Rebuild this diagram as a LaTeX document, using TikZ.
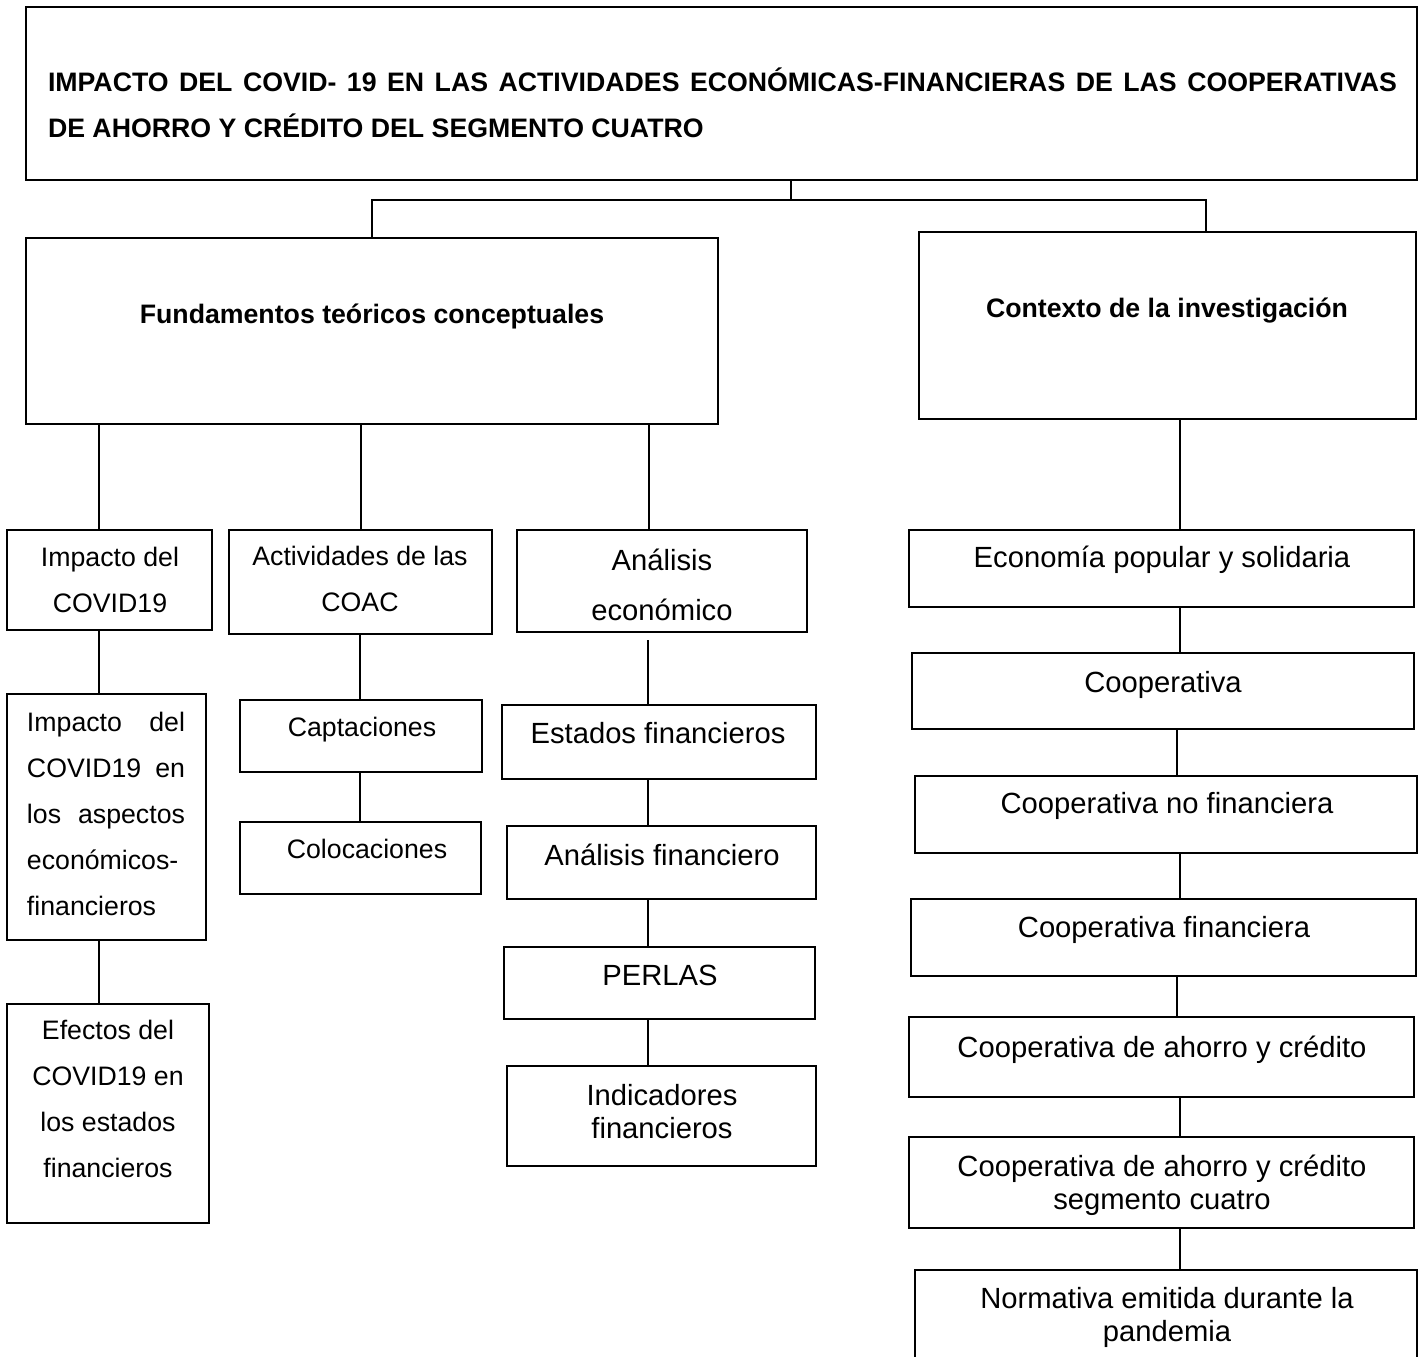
\documentclass[tikz,border=0pt]{standalone}
\usepackage{fontspec}
\setmainfont{Liberation Sans}
\usetikzlibrary{fit}
\newcommand\fsm{\fontsize{26.7}{46}\selectfont}
\newcommand\flg{\fontsize{29.2}{33.5}\selectfont}
\newcommand\flw{\fontsize{29.2}{50}\selectfont}
\newcommand\mlines[1]{\vtop{\halign{\hfil##\hfil\cr#1\crcr}}}
\tikzset{
  box/.style={draw, line width=2.5pt, inner sep=0pt, outer sep=0pt},
  lnk/.style={line width=2.5pt},
  txt/.style={inner sep=0pt, outer sep=0pt, anchor=base},
}
\begin{document}
\begin{tikzpicture}[x=1pt, y=-1pt]
\clip (0,0) rectangle (1419,1357);
\fill[white] (0,0) rectangle (1419,1357);
% boxes
\node[box, fit={(26,7) (1417,180)}] (title) {};
\node[box, fit={(26,238) (718,424)}] (fund) {};
\node[box, fit={(919,232) (1416,419)}] (ctx) {};
\node[box, fit={(7,530) (212,630)}] (imp) {};
\node[box, fit={(229,530) (492,634)}] (act) {};
\node[box, fit={(517,530) (807,632)}] (ane) {};
\node[box, fit={(7,694) (206,940)}] (impb) {};
\node[box, fit={(7,1004) (209,1223)}] (eff) {};
\node[box, fit={(240,700) (482,772)}] (cap) {};
\node[box, fit={(240,822) (481,894)}] (col) {};
\node[box, fit={(502,705) (816,779)}] (est) {};
\node[box, fit={(507,826) (816,899)}] (anf) {};
\node[box, fit={(504,947) (815,1019)}] (perl) {};
\node[box, fit={(507,1066) (816,1166)}] (ind) {};
\node[box, fit={(909,530) (1414,607)}] (eco) {};
\node[box, fit={(912,653) (1414,729)}] (coop) {};
\node[box, fit={(915,776) (1417,853)}] (nof) {};
\node[box, fit={(911,899) (1416,976)}] (fin) {};
\node[box, fit={(909,1017) (1414,1097)}] (ahc) {};
\node[box, fit={(909,1137) (1414,1228)}] (seg) {};
\node[box, fit={(915,1270) (1417,1380)}] (norm) {};
% texts
\node[txt, anchor=base west] (titlet) at (48,91) {\fsm\bfseries\parbox[t]{1349pt}{\sloppy\hyphenpenalty=10000 IMPACTO DEL COVID- 19 EN LAS ACTIVIDADES ECONÓMICAS-FINANCIERAS DE LAS COOPERATIVAS\linebreak DE AHORRO Y CRÉDITO DEL SEGMENTO CUATRO}};
\node[txt] (fundt) at (372,323) {\fsm\bfseries Fundamentos teóricos conceptuales};
\node[txt] (ctxt) at (1167,317) {\fsm\bfseries Contexto de la investigación};
\node[txt] (impt) at (110,566) {\fsm\mlines{Impacto del\cr COVID19}};
\node[txt] (actt) at (360,565) {\fsm\mlines{Actividades de las\cr COAC}};
\node[txt] (anet) at (662,570) {\flw\mlines{Análisis\cr económico}};
\node[txt, anchor=base west] (impbt) at (27,731) {\fsm\parbox[t]{158pt}{\hyphenpenalty=10000 Impacto del\linebreak COVID19 en\linebreak los aspectos\linebreak económicos-\\ financieros}};
\node[txt] (efft) at (108,1039) {\fsm\mlines{Efectos del\cr COVID19 en\cr los estados\cr financieros}};
\node[txt] (capt) at (362,736) {\fsm Captaciones};
\node[txt] (colt) at (367,858) {\fsm Colocaciones};
\node[txt] (estt) at (658,743) {\flg Estados financieros};
\node[txt] (anft) at (662,865) {\flg Análisis financiero};
\node[txt] (perlt) at (660,985) {\flg PERLAS};
\node[txt] (indt) at (662,1105) {\flg\mlines{Indicadores\cr financieros}};
\node[txt] (ecot) at (1162,567) {\flg Economía popular y solidaria};
\node[txt] (coopt) at (1163,692) {\flg Cooperativa};
\node[txt] (noft) at (1167,813) {\flg Cooperativa no financiera};
\node[txt] (fint) at (1164,937) {\flg Cooperativa financiera};
\node[txt] (ahct) at (1162,1057) {\flg Cooperativa de ahorro y crédito};
\node[txt] (segt) at (1162,1176) {\flg\mlines{Cooperativa de ahorro y crédito\cr segmento cuatro}};
\node[txt] (normt) at (1167,1308) {\flg\mlines{Normativa emitida durante la\cr pandemia}};
% connectors
\coordinate (j) at (791,200);
\coordinate (jr) at (1206,200);
\draw[lnk] (title.south -| j) -- (j);
\draw[lnk] (fund.north) |- (jr) -- (ctx.north -| jr);
\draw[lnk] (fund.south -| 99,0) -- (imp.north -| 99,0);
\draw[lnk] (fund.south -| 361,0) -- (act.north -| 361,0);
\draw[lnk] (fund.south -| 649,0) -- (ane.north -| 649,0);
\draw[lnk] (imp.south -| 99,0) -- (impb.north -| 99,0);
\draw[lnk] (impb.south -| 99,0) -- (eff.north -| 99,0);
\draw[lnk] (act.south -| 360,0) -- (cap.north -| 360,0);
\draw[lnk] (cap.south -| 360,0) -- (col.north -| 360,0);
\draw[lnk, shorten <=8pt] (ane.south -| 648,0) -- (est.north -| 648,0);
\draw[lnk] (est.south -| 648,0) -- (anf.north -| 648,0);
\draw[lnk] (anf.south -| 648,0) -- (perl.north -| 648,0);
\draw[lnk] (perl.south -| 648,0) -- (ind.north -| 648,0);
\draw[lnk] (ctx.south -| 1180,0) -- (eco.north -| 1180,0);
\draw[lnk] (eco.south -| 1180,0) -- (coop.north -| 1180,0);
\draw[lnk] (coop.south -| 1177,0) -- (nof.north -| 1177,0);
\draw[lnk] (nof.south -| 1180,0) -- (fin.north -| 1180,0);
\draw[lnk] (fin.south -| 1177,0) -- (ahc.north -| 1177,0);
\draw[lnk] (ahc.south -| 1180,0) -- (seg.north -| 1180,0);
\draw[lnk] (seg.south -| 1180,0) -- (norm.north -| 1180,0);
\end{tikzpicture}
\end{document}
